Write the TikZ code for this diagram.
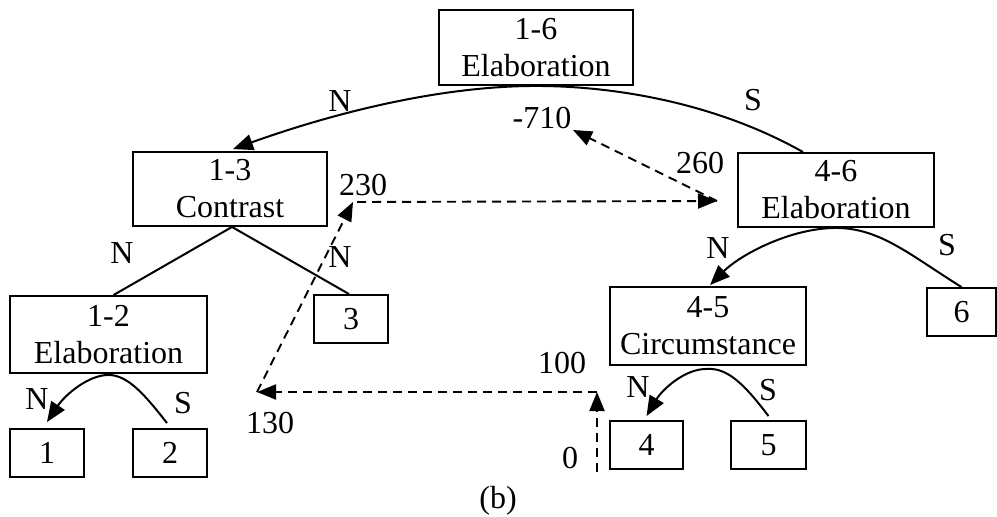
\documentclass[tikz,border=0pt]{standalone}
\usepackage{fontspec}
\setmainfont{Liberation Serif}
\usetikzlibrary{arrows.meta}
\newcommand\myfs{\fontsize{32}{37}\selectfont}
\begin{document}
\begin{tikzpicture}[x=1pt,y=-1pt,
  box/.style={draw, line width=1.9pt, inner sep=0pt, align=center, font=\myfs},
  edge/.style={line width=2pt},
  arr/.style={line width=2pt, -{Triangle[length=20pt,width=16pt]}},
  darr/.style={line width=1.9pt, dash pattern=on 9pt off 6pt, -{Triangle[length=19pt,width=15pt]}},
  lbl/.style={inner sep=0pt, font=\myfs}]
\useasboundingbox (0,0) rectangle (997,517);
% boxes
\node[box, minimum width=194pt, minimum height=75pt] (n16) at (536,47.5) {1-6\\Elaboration};
\node[box, minimum width=194pt, minimum height=74pt] (n13) at (230,189) {1-3\\Contrast};
\node[box, minimum width=196pt, minimum height=74pt] (n46) at (836,190) {4-6\\Elaboration};
\node[box, minimum width=197pt, minimum height=77pt] (n12) at (108.5,334.5) {1-2\\Elaboration};
\node[box, minimum width=74pt, minimum height=48pt] (n3) at (351,319) {3};
\node[box, minimum width=196pt, minimum height=78pt] (n45) at (708,326) {4-5\\Circumstance};
\node[box, minimum width=69pt, minimum height=48pt] (n6) at (961.5,312) {6};
\node[box, minimum width=74pt, minimum height=48pt] (n1) at (47,453) {1};
\node[box, minimum width=74pt, minimum height=48pt] (n2) at (170,453) {2};
\node[box, minimum width=73pt, minimum height=48pt] (n4) at (646.5,445) {4};
\node[box, minimum width=75pt, minimum height=48pt] (n5) at (768.5,445) {5};
% tree connectors
\draw[arr] ([xshift=-33pt]n46.north) .. controls (720,105) and (620,86) .. (n16.south)
  .. controls (420,86) and (300,125) .. ([xshift=3pt,yshift=2pt]n13.north);
\draw[edge] ([xshift=2pt]n13.south) -- ([xshift=5pt]n12.north);
\draw[edge] ([xshift=2pt]n13.south) -- ([xshift=-2pt]n3.north);
\draw[arr] ([xshift=-3pt,yshift=5pt]n2.north) .. controls (145,395) and (128,375) .. ([yshift=-1pt]n12.south)
  .. controls (88,375) and (65,395) .. ([yshift=6pt]n1.north);
\draw[arr] (n6.north) .. controls (910,255) and (880,228) .. (n46.south)
  .. controls (790,228) and (740,255) .. ([xshift=2pt,yshift=1pt]n45.north);
\draw[arr] ([yshift=4pt]n5.north) .. controls (745,385) and (728,368) .. ([yshift=-3pt]n45.south)
  .. controls (685,368) and (662,390) .. ([yshift=4pt]n4.north);
% relation labels
\node[lbl] (l1) at (340,101) {N};
\node[lbl] (l2) at (753,100) {S};
\node[lbl] (l3) at (122,253) {N};
\node[lbl] (l4) at (340,257) {N};
\node[lbl] (l5) at (37,399) {N};
\node[lbl] (l6) at (183,403) {S};
\node[lbl] (l7) at (718,248) {N};
\node[lbl] (l8) at (947,245) {S};
\node[lbl] (l9) at (638,387) {N};
\node[lbl] (l10) at (768,390) {S};
% dashed path
\coordinate (c0) at (597,472);
\coordinate (c100) at (597,392);
\coordinate (c130) at (257,392);
\coordinate (c230) at (353,202);
\coordinate (c260) at (717,201);
\coordinate (c710) at (573,130);
\draw[darr] (c0) -- (c100);
\draw[darr] (c100) -- (c130);
\draw[darr] (c130) -- (c230);
\draw[darr] ([xshift=4pt]c230) -- (c260);
\draw[darr] (c260) -- (c710);
\node[lbl] (v0) at (570,458) {0};
\node[lbl] (v100) at (562,363) {100};
\node[lbl] (v130) at (270,423) {130};
\node[lbl] (v230) at (363,185) {230};
\node[lbl] (v260) at (700,163) {260};
\node[lbl] (v710) at (542,118) {-710};
\node[lbl] (cap) at (498,501) {(b)};
\end{tikzpicture}
\end{document}
